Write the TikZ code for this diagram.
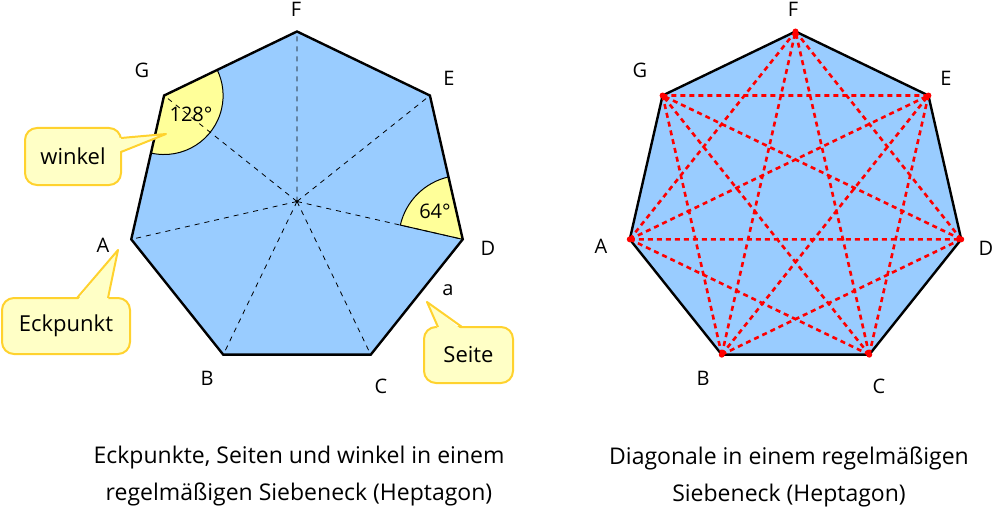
\documentclass[tikz,border=0pt]{standalone}
\usepackage{fontspec}
\setmainfont{Open Sans}
\usepackage{tikz}
\usetikzlibrary{positioning}
\definecolor{heptblue}{HTML}{99CCFF}
\definecolor{anglefill}{HTML}{FFFF99}
\definecolor{calloutfill}{HTML}{FFFFC6}
\definecolor{calloutline}{HTML}{FFD22E}
\definecolor{diagred}{HTML}{FF0000}
\tikzstyle{flaeche} = [fill=heptblue]
\tikzstyle{umriss} = [draw=black, line width=2.4pt, line join=miter]
\tikzstyle{speiche} = [draw=black, line width=0.8pt, dash pattern=on 5pt off 5pt]
\tikzstyle{diagonale} = [draw=diagred, line width=2.6pt, dash pattern=on 5pt off 4pt]
\tikzstyle{winkelfeld} = [fill=anglefill, draw=black, line width=1pt]
\tikzstyle{ecke} = [inner sep=0pt, font=\fontsize{20}{24}\selectfont]
\tikzstyle{hinweis} = [draw=calloutline, fill=calloutfill, line width=2pt, rounded corners=12pt, inner sep=0pt, outer sep=0pt, minimum height=56pt, font=\fontsize{22}{26}\selectfont]
\tikzstyle{zeiger} = [draw=calloutline, line width=2pt, line join=round]
\tikzstyle{titel} = [align=center, font=\fontsize{23}{37}\selectfont]

\begin{document}
\begin{tikzpicture}[x=1pt, y=1pt]
	\useasboundingbox (0,0) rectangle (993,-516);
	% linkes Siebeneck
	\begin{scope}[shift={(297,-201.5)}]
		\coordinate (lO) at (0,0);
		\coordinate (lF) at (90:170);
		\coordinate (lE) at (38.57:170);
		\coordinate (lD) at (-12.86:170);
		\coordinate (lC) at (-64.29:170);
		\coordinate (lB) at (-115.71:170);
		\coordinate (lA) at (192.86:170);
		\coordinate (lG) at (141.43:170);
	\end{scope}
	\fill[flaeche] (lA) -- (lB) -- (lC) -- (lD) -- (lE) -- (lF) -- (lG) -- cycle;
	\filldraw[winkelfeld] (lG) -- ++(-102.86:59) arc[start angle=-102.86, end angle=25.71, radius=59] -- cycle;
	\filldraw[winkelfeld] (lD) -- ++(102.86:64) arc[start angle=102.86, end angle=167.14, radius=64] -- cycle;
	\draw[speiche] (lO) -- (lA) (lO) -- (lB) (lO) -- (lC) (lO) -- (lD) (lO) -- (lE) (lO) -- (lF) (lO) -- (lG);
	\draw[umriss] (lA) -- (lB) -- (lC) -- (lD) -- (lE) -- (lF) -- (lG) -- cycle;
	\node[ecke] (w128) at (191,-114) {128°};
	\node[ecke] (w64) at (435,-211) {64°};
	\node[ecke] (nlF) at (296,-9) {F};
	\node[ecke] (nlE) at (449,-78) {E};
	\node[ecke] (nlD) at (488,-248) {D};
	\node[ecke] (nlC) at (381,-386) {C};
	\node[ecke] (nlB) at (207,-378) {B};
	\node[ecke] (nlA) at (103,-245) {A};
	\node[ecke] (nlG) at (142,-70) {G};
	\node[ecke] (seiteA) at (448,-290) {a};
	% Hinweise
	\node[hinweis, minimum width=96pt, minimum height=57pt] (winkel) at (73,-156.5) {winkel};
	\coordinate (spitzeW) at (166,-134);
	\fill[calloutfill] ([xshift=-3pt,yshift=18.5pt]winkel.east) -- (spitzeW) -- ([xshift=-3pt,yshift=4.5pt]winkel.east) -- cycle;
	\draw[zeiger] ([yshift=18.5pt]winkel.east) -- (spitzeW) -- ([yshift=4.5pt]winkel.east);
	\node[hinweis, minimum width=128pt] (eckpunkt) at (66,-326) {Eckpunkt};
	\coordinate (spitzeE) at (118,-250);
	\fill[calloutfill] ([xshift=11pt,yshift=-3pt]eckpunkt.north) -- (spitzeE) -- ([xshift=42pt,yshift=-3pt]eckpunkt.north) -- cycle;
	\draw[zeiger] ([xshift=11pt]eckpunkt.north) -- (spitzeE) -- ([xshift=42pt]eckpunkt.north);
	\node[hinweis, minimum width=89pt] (seite) at (468.5,-355) {Seite};
	\coordinate (spitzeS) at (427,-302);
	\fill[calloutfill] ([xshift=-30.5pt,yshift=-3pt]seite.north) -- (spitzeS) -- ([xshift=-6.5pt,yshift=-3pt]seite.north) -- cycle;
	\draw[zeiger] ([xshift=-30.5pt]seite.north) -- (spitzeS) -- ([xshift=-6.5pt]seite.north);
	\node[titel] (titelL) at (299,-476) {Eckpunkte, Seiten und winkel in einem\\regelmäßigen Siebeneck (Heptagon)};
	% rechtes Siebeneck
	\begin{scope}[shift={(795.5,-201.5)}]
		\coordinate (rF) at (90:170);
		\coordinate (rE) at (38.57:170);
		\coordinate (rD) at (-12.86:170);
		\coordinate (rC) at (-64.29:170);
		\coordinate (rB) at (-115.71:170);
		\coordinate (rA) at (192.86:170);
		\coordinate (rG) at (141.43:170);
	\end{scope}
	\fill[flaeche] (rA) -- (rB) -- (rC) -- (rD) -- (rE) -- (rF) -- (rG) -- cycle;
	\draw[umriss] (rA) -- (rB) -- (rC) -- (rD) -- (rE) -- (rF) -- (rG) -- cycle;
	\draw[diagonale] (rA) -- (rC) (rA) -- (rD) (rA) -- (rE) (rA) -- (rF)
		(rB) -- (rD) (rB) -- (rE) (rB) -- (rF) (rB) -- (rG)
		(rC) -- (rE) (rC) -- (rF) (rC) -- (rG)
		(rD) -- (rF) (rD) -- (rG)
		(rE) -- (rG);
	\fill[diagred] (rA) circle[radius=3] (rB) circle[radius=3] (rC) circle[radius=3] (rD) circle[radius=3] (rE) circle[radius=3] (rF) circle[radius=3] (rG) circle[radius=3];
	\node[ecke] (nrF) at (793,-9) {F};
	\node[ecke] (nrE) at (946,-78) {E};
	\node[ecke] (nrD) at (986,-248) {D};
	\node[ecke] (nrC) at (879,-386) {C};
	\node[ecke] (nrB) at (703,-378) {B};
	\node[ecke] (nrA) at (601,-246) {A};
	\node[ecke] (nrG) at (640,-70) {G};
	\node[titel] (titelR) at (789,-477) {Diagonale in einem regelmäßigen\\Siebeneck (Heptagon)};
\end{tikzpicture}
\end{document}
